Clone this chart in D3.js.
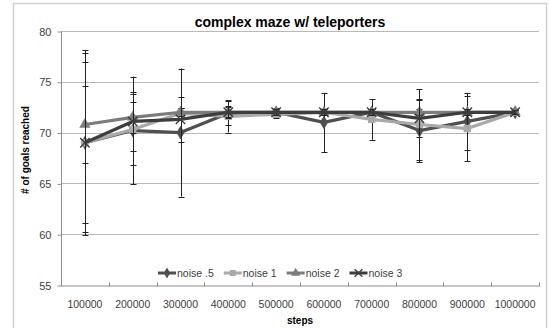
<!DOCTYPE html>
<html>
<head>
<meta charset="utf-8">
<script src="https://cdn.jsdelivr.net/npm/d3@7"></script>
<style>
  body { margin: 0; background: #fff; }
  svg { display: block; font-family: "Liberation Sans", "DejaVu Sans", sans-serif; }
</style>
</head>
<body>
<svg></svg>
<script>
var width = 549;
var height = 328;

// data
var steps = ["100000", "200000", "300000", "400000", "500000", "600000", "700000", "800000", "900000", "1000000"];
var seriesNames = ["noise .5", "noise 1", "noise 2", "noise 3"];
var noiseHalf = [69.0, 70.2, 70.0, 71.9, 72.0, 71.0, 72.0, 70.2, 71.1, 72.0];
var noiseOne = [69.0, 70.3, 71.9, 71.6, 71.8, 72.0, 71.3, 70.8, 70.4, 72.0];
var noiseTwo = [70.8, 71.5, 72.0, 72.0, 72.0, 72.0, 72.0, 72.0, 72.0, 72.0];
var noiseThree = [69.0, 71.1, 71.3, 72.0, 72.0, 72.0, 72.0, 71.4, 72.0, 72.0];
var errHalf = [9.1, 5.3, 6.3, 1.2, 0.4, 2.9, 0.3, 3.1, 2.8, 0.2];
var errOne = [8.8, 3.5, 0.5, 1.6, 0.4, 0.3, 2.0, 3.5, 3.2, 0.2];
var errTwo = [3.8, 1.5, 0.4, 0.5, 0.3, 0.3, 0.3, 0.3, 0.3, 0.2];
var errThree = [7.9, 2.9, 2.2, 0.6, 0.3, 0.3, 0.3, 1.8, 0.3, 0.2];
var yTicks = [55, 60, 65, 70, 75, 80];

var colors = ["#4f4f4f", "#a9a9a9", "#7c7c7c", "#3d3d3d"];
var symbols = [d3.symbolDiamond, d3.symbolSquare, d3.symbolTriangle, d3.symbolX];
var values = [noiseHalf, noiseOne, noiseTwo, noiseThree];
var errors = [errHalf, errOne, errTwo, errThree];

var series = seriesNames.map(function(name, i) {
    return {
        name: name,
        color: colors[i],
        symbol: symbols[i],
        points: steps.map(function(s, j) {
            return { step: s, value: values[i][j], err: errors[i][j] };
        })
    };
});

var plotLeft = 61, plotRight = 539, plotTop = 31, plotBottom = 285;

var xScale = d3.scaleBand()
    .domain(steps)
    .range([plotLeft, plotRight]);

var yScale = d3.scaleLinear()
    .domain([55, 80])
    .range([plotBottom, plotTop]);

var svg = d3.select("svg")
    .attr("width", width)
    .attr("height", height);

// chart border
svg.append("rect")
    .attr("x", 13.5)
    .attr("y", 3.5)
    .attr("width", 533)
    .attr("height", 340)
    .attr("fill", "none")
    .attr("stroke", "#d0d0d0")
    .attr("stroke-width", 1.5);

// gridlines
svg.append("g")
    .selectAll("line")
    .data(yTicks.filter(d => d > 55))
    .enter()
    .append("line")
        .attr("x1", plotLeft)
        .attr("x2", plotRight)
        .attr("y1", d => Math.round(yScale(d)) + 0.5)
        .attr("y2", d => Math.round(yScale(d)) + 0.5)
        .attr("stroke", "#b8b8b8");

// y axis
var yAxis = d3.axisLeft(yScale)
    .tickValues(yTicks)
    .tickSize(4)
    .tickPadding(6)
    .tickFormat(d3.format("d"));

var gy = svg.append("g")
    .attr("transform", "translate(" + (plotLeft + 0.5) + ",0.5)")
    .call(yAxis);
gy.select(".domain").attr("stroke", "#8e8e8e").attr("d", "M0," + plotTop + "V" + plotBottom);
gy.selectAll(".tick line").attr("stroke", "#8e8e8e");
gy.selectAll(".tick text")
    .attr("fill", "#404040")
    .style("font-size", "11px")
    .style("font-family", "Liberation Sans, sans-serif");

// x axis (labels centered, tick marks on category edges)
var xAxis = d3.axisBottom(xScale)
    .tickSize(0)
    .tickPadding(15);

var gx = svg.append("g")
    .attr("transform", "translate(0," + (plotBottom + 0.5) + ")")
    .call(xAxis);
gx.select(".domain").attr("stroke", "#8e8e8e");
gx.selectAll(".tick text")
    .attr("fill", "#404040")
    .style("font-size", "10.5px")
    .style("font-family", "Liberation Sans, sans-serif");

gx.selectAll(".edge")
    .data(steps.concat(["end"]))
    .enter()
    .append("line")
        .attr("class", "edge")
        .attr("x1", (d, i) => Math.round(plotLeft + i * xScale.step()) + 0.5)
        .attr("x2", (d, i) => Math.round(plotLeft + i * xScale.step()) + 0.5)
        .attr("y1", -3)
        .attr("y2", 1)
        .attr("stroke", "#8e8e8e");

var cx = d => xScale(d) + xScale.bandwidth() / 2;

// draws a marker; the x marker is stroked, the rest are filled
function drawMarker(sel, s, size) {
    sel.attr("d", d3.symbol().type(s.symbol).size(size));
    if (s.symbol === d3.symbolX) {
        sel.attr("fill", "none").attr("stroke", s.color).attr("stroke-width", 1.4);
    } else {
        sel.attr("fill", s.color);
    }
}

// series
var line = d3.line()
    .x(d => cx(d.step))
    .y(d => yScale(d.value));

series.forEach(function(s) {
    var g = svg.append("g");

    // error bars
    var eb = g.selectAll(".err")
        .data(s.points)
        .enter()
        .append("g")
        .attr("class", "err");
    eb.append("line")
        .attr("x1", d => Math.round(cx(d.step)) + 0.5)
        .attr("x2", d => Math.round(cx(d.step)) + 0.5)
        .attr("y1", d => yScale(d.value + d.err))
        .attr("y2", d => yScale(d.value - d.err))
        .attr("stroke", "#222")
        .attr("stroke-width", 1);
    [1, -1].forEach(function(sign) {
        eb.append("line")
            .attr("x1", d => Math.round(cx(d.step)) - 2.5)
            .attr("x2", d => Math.round(cx(d.step)) + 3.5)
            .attr("y1", d => Math.round(yScale(d.value + sign * d.err)) + 0.5)
            .attr("y2", d => Math.round(yScale(d.value + sign * d.err)) + 0.5)
            .attr("stroke", "#222")
            .attr("stroke-width", 1);
    });

    g.append("path")
        .datum(s.points)
        .attr("d", line)
        .attr("fill", "none")
        .attr("stroke", s.color)
        .attr("stroke-width", 3.2)
        .attr("stroke-linejoin", "round");

    g.selectAll(".mark")
        .data(s.points)
        .enter()
        .append("path")
            .attr("class", "mark")
            .attr("transform", d => "translate(" + cx(d.step) + "," + yScale(d.value) + ")")
            .call(drawMarker, s, s.symbol === d3.symbolX ? 60 : 55);
});

// legend
var legend = svg.append("g").attr("transform", "translate(0,273)");
var lx = 158;
series.forEach(function(s) {
    var item = legend.append("g").attr("transform", "translate(" + lx + ",0)");
    item.append("line")
        .attr("x1", 0).attr("x2", 18)
        .attr("y1", 0).attr("y2", 0)
        .attr("stroke", s.color)
        .attr("stroke-width", 3);
    item.append("path")
        .attr("transform", "translate(9,0)")
        .call(drawMarker, s, s.symbol === d3.symbolX ? 40 : 36);
    var t = item.append("text")
        .attr("x", 19)
        .attr("dy", "0.35em")
        .attr("fill", "#404040")
        .style("font-size", "10.5px")
        .text(s.name);
    lx += 19 + t.node().getComputedTextLength() + 10;
});

// chart title
svg.append("text")
    .attr("x", 290)
    .attr("y", 27)
    .style("text-anchor", "middle")
    .style("font-size", "14px")
    .style("font-weight", "bold")
    .text("complex maze w/ teleporters");

// y axis label
svg.append("text")
    .attr("transform", "rotate(-90)")
    .attr("x", -150)
    .attr("y", 29)
    .style("text-anchor", "middle")
    .style("font-size", "10px")
    .style("font-weight", "bold")
    .text("# of goals reached");

// x axis label
svg.append("text")
    .attr("x", 300)
    .attr("y", 324)
    .style("text-anchor", "middle")
    .style("font-size", "10px")
    .style("font-weight", "bold")
    .text("steps");
</script>
</body>
</html>
